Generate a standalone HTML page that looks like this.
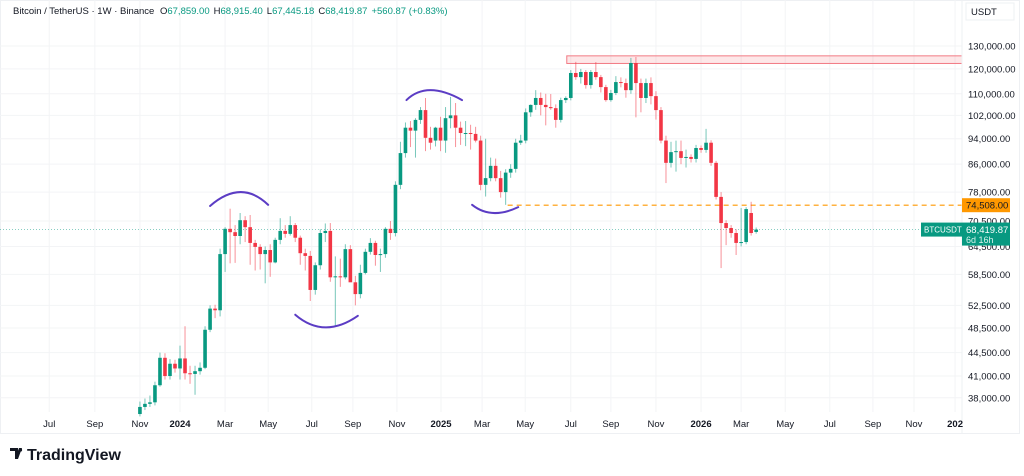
<!DOCTYPE html>
<html><head><meta charset="utf-8">
<style>
html,body{margin:0;padding:0;background:#fff;width:1024px;height:476px;overflow:hidden;font-family:"Liberation Sans",sans-serif;}
#wrap{position:relative;width:1024px;height:476px;}
svg text{font-family:"Liberation Sans",sans-serif;}
</style></head><body>
<div id="wrap">
<svg id="chart" width="1024" height="476" xmlns="http://www.w3.org/2000/svg">
  <rect x="0.5" y="0.5" width="1019" height="433" fill="#fff" stroke="#eef0f3"/>
  <g id="grid"></g>
  <g id="zones"></g>
  <g id="candles"></g>
  <g id="arcs"></g>
  <line x1="962" y1="0" x2="962" y2="434" stroke="#eef0f3"/>
  <g id="yaxis"></g>
  <g id="xaxis"></g>
  <g id="tags"></g>
  <rect x="966" y="3" width="48" height="17" fill="#fff" stroke="#eef0f3"/>
  <text x="971" y="15" font-size="9.5" fill="#131722">USDT</text>
  <text x="13" y="14" font-size="9.5" fill="#131722">Bitcoin / TetherUS · 1W · Binance <tspan dx="3">O</tspan><tspan fill="#089981">67,859.00</tspan><tspan dx="4">H</tspan><tspan fill="#089981">68,915.40</tspan><tspan dx="4">L</tspan><tspan fill="#089981">67,445.18</tspan><tspan dx="4">C</tspan><tspan fill="#089981">68,419.87</tspan><tspan dx="4" fill="#089981">+560.87 (+0.83%)</tspan></text>
  <g>
    <path d="M10 448 h8 v11 h-3 v-8 h-5z M19 448 h3 l-4 11 h-3z" fill="#131722"/>
    <circle cx="20.5" cy="450" r="1.6" fill="#131722"/>
    <text x="27" y="460" font-size="16" font-weight="bold" fill="#131722">TradingView</text>
  </g>
</svg>
</div>
<script>
// ---- data (weekly candles, index 0 = week of 2024-01-01, first candle index -7) ----
const firstIndex = -7;
const opens  = [35.9,36.8,37.2,37.4,39.7,43.7,41.0,42.8,42.1,43.6,41.4,41.3,41.7,42.2,48.2,51.9,51.6,62.8,68.6,67.8,66.9,70.7,69.0,65.3,64.4,62.8,63.7,61.0,66.0,68.1,67.4,69.5,66.5,63.0,62.4,55.4,60.4,67.6,68.1,57.9,58.1,57.9,63.9,56.9,54.6,58.8,63.3,65.3,62.6,62.8,68.6,67.6,80.0,89.4,97.7,96.7,100.4,103.9,94.3,93.4,97.7,93.4,101.0,102.0,97.7,95.9,95.9,95.6,93.4,80.0,81.9,85.5,81.9,78.0,83.5,84.6,92.7,93.4,103.1,105.8,108.4,105.8,105.0,104.6,100.4,107.6,108.4,118.3,116.6,118.7,113.4,118.7,116.6,112.6,107.6,110.3,114.6,114.2,111.4,122.5,114.2,108.4,114.2,109.1,103.9,93.4,86.4,89.7,90.0,87.9,88.2,87.6,91.0,90.4,92.7,86.4,76.7,70.0,68.8,67.6,65.3,65.5,72.5,67.859];
const highs  = [37.5,37.9,38.3,40.2,44.5,44.4,43.5,43.4,45.6,48.8,42.5,42.5,43.0,48.8,52.5,52.6,64.0,69.0,73.6,69.5,72.5,71.7,72.0,66.0,65.0,64.5,65.0,66.5,71.2,69.5,71.7,70.0,67.0,64.0,63.5,61.0,68.5,69.9,70.0,62.3,61.8,65.0,64.8,58.2,60.5,64.0,66.4,65.8,64.0,69.0,70.5,81.0,93.0,99.5,100.0,101.0,105.0,108.4,98.0,98.0,101.5,105.0,108.8,106.5,99.8,100.0,98.7,98.0,95.0,94.0,88.0,87.7,84.0,84.5,86.0,94.0,95.3,104.5,106.0,111.4,110.5,110.0,109.9,106.0,108.5,109.0,119.5,123.0,120.0,119.5,119.5,122.9,117.5,113.5,111.5,117.0,116.5,116.0,124.7,125.1,116.0,116.0,116.5,111.0,105.0,95.0,93.0,93.4,93.4,90.5,89.0,92.0,91.8,97.3,93.5,87.0,78.0,70.7,69.5,68.5,73.8,74.0,75.4,68.915];
const lows   = [35.6,36.4,36.8,37.0,39.5,40.5,40.5,41.5,40.5,40.5,39.9,38.4,41.2,42.0,47.8,50.2,50.5,59.0,60.8,60.9,65.0,65.5,60.5,59.3,59.5,56.7,58.0,60.8,65.0,66.5,67.0,65.5,60.5,59.3,53.3,54.5,59.5,65.5,57.0,48.8,56.0,57.5,57.0,52.5,53.8,58.5,62.7,60.3,59.0,62.0,66.0,66.8,78.8,88.0,91.3,88.0,99.0,90.0,90.5,91.5,90.0,89.5,97.5,91.3,92.0,91.6,90.5,92.8,78.5,76.8,81.0,81.0,76.5,74.6,82.0,83.5,92.0,92.5,101.5,104.0,102.0,98.5,104.0,97.7,99.5,106.5,107.5,115.5,114.0,112.0,112.0,115.5,110.5,107.0,107.0,109.5,112.5,108.5,110.0,101.3,103.1,106.5,106.0,100.5,92.5,80.5,85.0,83.8,86.0,85.0,86.5,86.5,89.5,89.5,85.5,76.0,59.8,64.8,66.5,62.6,64.5,65.0,67.0,67.445];
const closes = [36.8,37.2,37.4,39.7,43.7,41.0,42.8,42.1,43.6,41.4,41.3,41.7,42.2,48.2,51.9,51.6,62.8,68.6,67.8,66.9,70.7,69.0,65.3,64.4,62.8,63.7,61.0,66.0,68.1,67.4,69.5,66.5,63.0,62.4,55.4,60.4,67.6,68.1,57.9,58.1,57.9,63.9,56.9,54.6,58.8,63.3,65.3,62.6,62.8,68.6,67.6,80.0,89.4,97.7,96.7,100.4,103.9,94.3,92.7,97.7,93.4,101.0,102.0,97.7,95.9,95.9,95.6,93.4,80.0,81.9,85.5,81.9,78.0,83.5,84.6,92.7,93.4,103.1,105.8,108.4,105.8,105.0,104.6,100.4,107.6,108.4,118.3,116.6,118.7,113.4,118.7,116.6,112.6,107.6,110.3,114.6,114.2,111.4,122.5,114.2,108.4,114.2,109.1,103.9,93.4,86.4,89.7,90.0,87.9,88.2,87.6,91.0,90.4,92.7,86.4,76.7,70.0,68.8,67.6,65.3,65.5,73.5,67.6,68.41987];
const priceTicks = [130000,120000,110000,102000,94000,86000,78000,70500,64500,58500,52500,48500,44500,41000,38000];
const timeLabels = ["Jul","Sep","Nov","2024","Mar","May","Jul","Sep","Nov","2025","Mar","May","Jul","Sep","Nov","2026","Mar","May","Jul","Sep","Nov","202"];
const timeLabelIdx = [-25.1,-16,-7,1,10,18.6,27.3,35.5,44.3,53.1,61.3,69.9,79,87,96,105,113,121.8,130.7,139.3,147.5,155.7];
const supportLevel = 74508;
const resistanceZone = [122300, 125600];
const resistanceStartIdx = 78.2;
const supportStartIdx = 66.4;
const lastPrice = 68419.87;

// ---- scales ----
const NS='http://www.w3.org/2000/svg';
function yScale(p){ return 46 - Math.log(p/130000)*286; }
function xScale(i){ return 175 + i*5.01; }
function el(tag, attrs, parent){ const e=document.createElementNS(NS,tag); for(const k in attrs) e.setAttribute(k,attrs[k]); parent.appendChild(e); return e; }
const grid=document.getElementById('grid'), yaxis=document.getElementById('yaxis'), xaxis=document.getElementById('xaxis');
const cg=document.getElementById('candles'), zones=document.getElementById('zones'), tags=document.getElementById('tags'), arcs=document.getElementById('arcs');

priceTicks.forEach(p=>{
  const y=yScale(p);
  const gl=el('line',{x1:0,x2:962,y1:y,y2:y,stroke:'#f3f4f6'},grid);
  
  
  const t=el('text',{x:968,y:y+3.5,'font-size':9.5,fill:'#131722'},yaxis);
  t.textContent=p.toLocaleString('en-US',{minimumFractionDigits:2});
  
  
});
timeLabels.forEach((lab,k)=>{
  const x=xScale(timeLabelIdx[k]);
  const gl=el('line',{x1:x,x2:x,y1:0,y2:412,stroke:'#f3f4f6'},grid);
  
  
  const bold=/^20/.test(lab);
  const t=el('text',{x:x,y:427,'font-size':9.5,'text-anchor':'middle',fill:'#131722','font-weight':bold?'bold':'normal'},xaxis);
  t.textContent=lab;
  
  
});

// resistance zone
const zy1=yScale(resistanceZone[1]), zy2=yScale(resistanceZone[0]);
const zr=el('rect',{x:xScale(resistanceStartIdx),y:zy1,width:962-xScale(resistanceStartIdx),height:zy2-zy1,fill:'rgba(242,54,69,0.12)',stroke:'#f27a84','stroke-width':1},zones);


// current price dotted line
const cy=yScale(lastPrice);
const cl=el('line',{x1:0,x2:962,y1:cy,y2:cy,stroke:'rgba(8,153,129,0.55)','stroke-width':0.8,'stroke-dasharray':'1 2'},zones);


// support dashed line
const sy=yScale(supportLevel);
const sl=el('line',{x1:xScale(supportStartIdx),x2:962,y1:sy,y2:sy,stroke:'#ff9800','stroke-width':1.2,'stroke-dasharray':'5 4'},zones);



// candles
for(let k=0;k<opens.length;k++){
  const i=firstIndex+k, x=xScale(i);
  const o=opens[k]*1000,h=highs[k]*1000,l=lows[k]*1000,c=closes[k]*1000;
  const up=c>=o, col=up?'#089981':'#f23645';
  const g=el('g',{},cg);
  
  
  el('line',{x1:x,x2:x,y1:yScale(h),y2:yScale(l),stroke:col,'stroke-opacity':0.55,'stroke-width':1},g);
  const top=yScale(Math.max(o,c)), bot=yScale(Math.min(o,c));
  el('rect',{x:x-1.8,y:top,width:3.6,height:Math.max(1,bot-top),fill:col},g);
}

// hand-drawn arcs: [startIdx, startPrice, endIdx, endPrice, midIdx, midPrice]
const arcDefs=[[7,74300,18.6,74600,13,78000],[24,50800,36.5,50600,30,48600],[46.2,107600,57.3,107600,51,111400],[59.3,74600,68.5,74000,63.5,72500]];
arcDefs.forEach(a=>{
  const x1=xScale(a[0]),y1=yScale(a[1]),x2=xScale(a[2]),y2=yScale(a[3]),xm=xScale(a[4]),ym=yScale(a[5]);
  const cxp=2*xm-(x1+x2)/2, cyp=2*ym-(y1+y2)/2;
  const p=el('path',{d:`M${x1} ${y1} Q${cxp} ${cyp} ${x2} ${y2}`,fill:'none',stroke:'#5b3cc4','stroke-width':2,'stroke-linecap':'round'},arcs);
  
  
});

// price tags
const st=el('rect',{x:962,y:sy-7,width:48,height:14,fill:'#ff9800'},tags);


const stt=el('text',{x:966,y:sy+3.5,'font-size':9.5,fill:'#131722'},tags);
stt.textContent=supportLevel.toLocaleString('en-US',{minimumFractionDigits:2});


const sym=el('rect',{x:921,y:cy-7,width:41,height:14,fill:'#089981'},tags);


const symt=el('text',{x:924,y:cy+3,'font-size':8,fill:'#fff'},tags);
symt.textContent='BTCUSDT';


const pt=el('rect',{x:962,y:cy-7,width:48,height:23,fill:'#089981'},tags);


const ptt=el('text',{x:966,y:cy+3.5,'font-size':9.5,fill:'#fff'},tags);
ptt.textContent=lastPrice.toLocaleString('en-US',{minimumFractionDigits:2});


const cd=el('text',{x:966,y:cy+13.5,'font-size':9,fill:'#d8f2ec'},tags);
cd.textContent='6d 16h';


</script>
</body></html>
